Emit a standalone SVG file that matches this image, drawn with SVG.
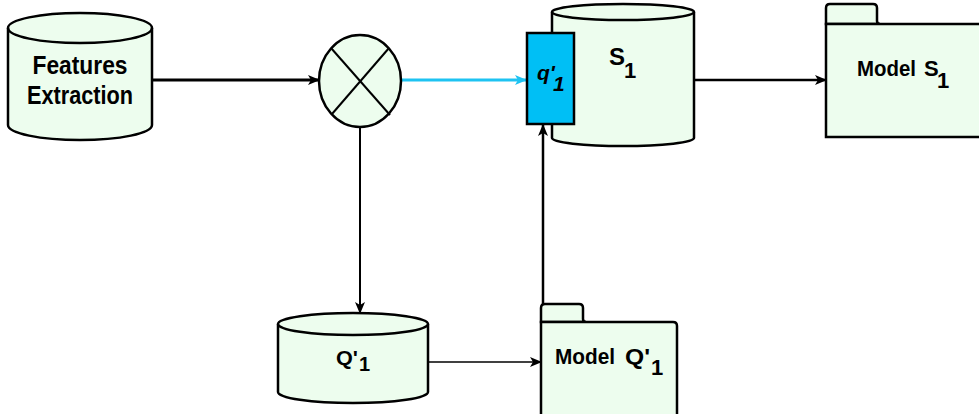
<svg xmlns="http://www.w3.org/2000/svg" width="979" height="414" viewBox="0 0 979 414">
  <defs>
    <style>
      .shape { fill: #edfdee; stroke: #000; stroke-width: 2.5; }
      .edge { fill: none; stroke: #000; }
      .edge.cyan { stroke: #1ec3f2; }
      .lbl { font-family: "Liberation Sans", Arial, sans-serif; font-weight: bold; fill: #000; }
    </style>
    <marker id="ah" markerWidth="12" markerHeight="10" refX="11" refY="5" orient="auto" markerUnits="userSpaceOnUse">
      <path d="M0,0 L12,5 L0,10 L3,5 Z" fill="#000"/>
    </marker>
    <marker id="ahCyan" markerWidth="12" markerHeight="10" refX="11" refY="5" orient="auto" markerUnits="userSpaceOnUse">
      <path d="M0,0 L12,5 L0,10 L3,5 Z" fill="#1ec3f2"/>
    </marker>
  </defs>

  <!-- connectors -->
  <g id="connectors">
    <line class="edge" x1="152" y1="80" x2="319" y2="80" stroke-width="3" marker-end="url(#ah)"/>
    <line class="edge cyan" x1="401" y1="80" x2="526" y2="80" stroke-width="3" marker-end="url(#ahCyan)"/>
    <line class="edge" x1="694" y1="80" x2="826" y2="80" stroke-width="2.5" marker-end="url(#ah)"/>
    <line class="edge" x1="360" y1="127" x2="360" y2="313" stroke-width="2" marker-end="url(#ah)"/>
    <line class="edge" x1="428" y1="362" x2="541" y2="362" stroke-width="1.6" marker-end="url(#ah)"/>
    <line class="edge" x1="543" y1="304" x2="543" y2="125" stroke-width="2.5" marker-end="url(#ah)"/>
  </g>

  <!-- Features Extraction store -->
  <g id="features">
    <path class="shape" d="M8,28 L8,125 A72,15 0 0 0 152,125 L152,28 A72,15 0 0 0 8,28 Z"/>
    <path class="edge" stroke-width="2.5" d="M8,28 A72,15 0 0 0 152,28"/>
    <text class="lbl" x="80" y="74" font-size="26" text-anchor="middle" textLength="95" lengthAdjust="spacingAndGlyphs">Features</text>
    <text class="lbl" x="80" y="104" font-size="26" text-anchor="middle" textLength="106" lengthAdjust="spacingAndGlyphs">Extraction</text>
  </g>

  <!-- mixer -->
  <g id="mixer">
    <ellipse class="shape" cx="360" cy="81" rx="41" ry="46"/>
    <line class="edge" stroke-width="2" x1="331" y1="48" x2="390" y2="115"/>
    <line class="edge" stroke-width="2" x1="389" y1="48" x2="332" y2="114"/>
  </g>

  <!-- S1 store -->
  <g id="s1">
    <path class="shape" d="M552,12 L552,138 A71,8 0 0 0 694,138 L694,12 A71,8 0 0 0 552,12 Z"/>
    <path class="edge" stroke-width="2.5" d="M552,12 A71,8 0 0 0 694,12"/>
    <text class="lbl" x="609" y="65" font-size="24">S</text>
    <text class="lbl" x="624" y="78" font-size="22">1</text>
  </g>

  <!-- q'1 port -->
  <g id="q1port">
    <rect x="527" y="33" width="47" height="91" fill="#00bff5" stroke="#000" stroke-width="2.5"/>
    <text class="lbl" x="537" y="80" font-size="21" font-style="italic">q'</text>
    <text class="lbl" x="553" y="91" font-size="21" font-style="italic">1</text>
  </g>

  <!-- Model S1 package -->
  <g id="models1">
    <path class="shape" d="M826,24 L826,8 Q826,4 830,4 L873,4 Q877,4 877,8 L877,21 Q877,24 880,24 Z"/>
    <path class="shape" d="M826,24 L990,24 L990,137 L826,137 Z"/>
    <text class="lbl" x="857" y="76" font-size="22" textLength="59" lengthAdjust="spacingAndGlyphs">Model</text>
    <text class="lbl" x="924" y="76" font-size="22">S</text>
    <text class="lbl" x="937" y="88" font-size="22">1</text>
  </g>

  <!-- Q'1 store -->
  <g id="q1">
    <path class="shape" d="M278,324 L278,392 A75,11 0 0 0 428,392 L428,324 A75,11 0 0 0 278,324 Z"/>
    <path class="edge" stroke-width="2.5" d="M278,324 A75,11 0 0 0 428,324"/>
    <text class="lbl" x="336" y="365" font-size="21" textLength="22" lengthAdjust="spacingAndGlyphs">Q'</text>
    <text class="lbl" x="359" y="371" font-size="20">1</text>
  </g>

  <!-- Model Q'1 package -->
  <g id="modelq1">
    <path class="shape" d="M541,322 L541,308 Q541,304 545,304 L579,304 Q583,304 583,308 L583,319 Q583,322 586,322 Z"/>
    <path class="shape" d="M541,322 L673,322 Q677,322 677,326 L677,420 L541,420 Z"/>
    <text class="lbl" x="555" y="364" font-size="22" textLength="60" lengthAdjust="spacingAndGlyphs">Model</text>
    <text class="lbl" x="625" y="364" font-size="22" textLength="25" lengthAdjust="spacingAndGlyphs">Q'</text>
    <text class="lbl" x="651" y="375" font-size="22">1</text>
  </g>
</svg>
